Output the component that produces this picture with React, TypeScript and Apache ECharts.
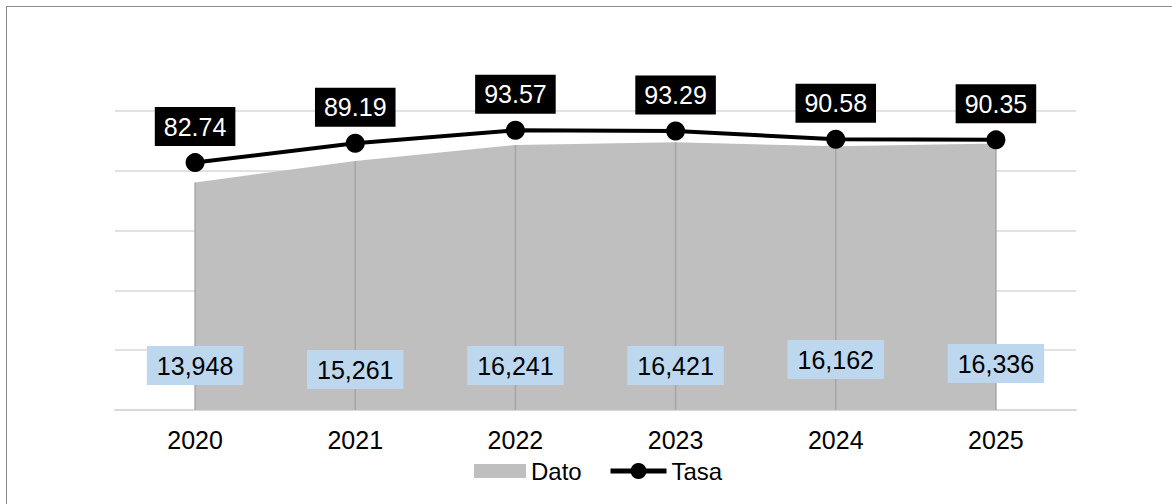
import React, { useEffect, useRef } from "react";
import * as echarts from "echarts";

const categories = ["2020", "2021", "2022", "2023", "2024", "2025"];
const datoValues = [13948, 15261, 16241, 16421, 16162, 16336];
const tasaValues = [82.74, 89.19, 93.57, 93.29, 90.58, 90.35];
const datoLabelLift = [25, 21, 25, 25, 31, 27];

const FONT = "'Liberation Sans', Arial, sans-serif";

export default function App() {
  const ref = useRef<HTMLDivElement>(null);
  useEffect(() => {
    if (!ref.current) return;
    const chart = echarts.init(ref.current, undefined, { renderer: "svg" });
    chart.setOption({
      animation: false,
      textStyle: { fontFamily: FONT },
      grid: { left: 115, right: 96, top: 111, bottom: 94, containLabel: false },
      legend: [
        {
          data: [{ name: "Dato", icon: "rect" }],
          left: 469,
          top: 454,
          padding: 5,
          itemWidth: 52,
          itemHeight: 14,
          selectedMode: false,
          textStyle: { fontSize: 24, color: "#000", fontFamily: FONT },
        },
        {
          data: ["Tasa"],
          left: 603,
          top: 454,
          padding: 5,
          itemWidth: 56,
          itemHeight: 20,
          selectedMode: false,
          lineStyle: { width: 5 },
          textStyle: { fontSize: 24, color: "#000", fontFamily: FONT },
        },
      ],
      xAxis: {
        type: "category",
        data: categories,
        boundaryGap: true,
        axisLine: { show: true, lineStyle: { color: "#d9d9d9", width: 2 } },
        axisTick: { show: false },
        axisLabel: { fontSize: 25, color: "#000", margin: 17, fontFamily: FONT },
        splitLine: { show: false },
      },
      yAxis: [
        {
          type: "value",
          min: 0,
          max: 18330,
          show: false,
          splitLine: { show: false },
        },
        {
          type: "value",
          min: 0,
          max: 100,
          interval: 20,
          axisLine: { show: false },
          axisTick: { show: false },
          axisLabel: { show: false },
          splitLine: { show: true, lineStyle: { color: "#d9d9d9", width: 1.5 } },
        },
      ],
      series: [
        {
          name: "Dato",
          type: "line",
          yAxisIndex: 0,
          data: datoValues,
          symbol: "none",
          lineStyle: { width: 0 },
          itemStyle: { color: "#bfbfbf" },
          areaStyle: { color: "#bfbfbf", opacity: 1 },
          z: 1,
        },
        {
          name: "DatoDrop",
          type: "bar",
          yAxisIndex: 0,
          barWidth: 1.5,
          data: datoValues.map((v, i) => ({
            value: v,
            label: { distance: datoLabelLift[i] },
          })),
          itemStyle: { color: "#a6a6a6" },
          label: {
            show: true,
            position: "insideBottom",
            formatter: (p: any) => Number(p.value).toLocaleString("en-US"),
            color: "#000",
            backgroundColor: "#bdd7ee",
            fontSize: 25,
            lineHeight: 27,
            padding: [6, 10],
            fontFamily: FONT,
          },
          z: 2,
        },
        {
          name: "Tasa",
          type: "line",
          yAxisIndex: 1,
          data: tasaValues,
          symbol: "circle",
          symbolSize: 19,
          lineStyle: { color: "#000", width: 4 },
          itemStyle: { color: "#000" },
          label: {
            show: true,
            position: "top",
            distance: 7,
            formatter: (p: any) => Number(p.value).toFixed(2),
            color: "#fff",
            backgroundColor: "#000",
            fontSize: 25,
            lineHeight: 27,
            padding: [6, 9],
            fontFamily: FONT,
          },
          z: 3,
        },
      ],
    });
    return () => chart.dispose();
  }, []);

  return (
    <div
      style={{
        position: "absolute",
        left: 0,
        top: 0,
        width: 1172,
        height: 504,
        overflow: "hidden",
        background: "#fff",
      }}
    >
      <div
        style={{
          position: "absolute",
          left: 6,
          top: 6,
          width: 1200,
          height: 600,
          border: "1.3px solid #8a8a8a",
          boxSizing: "border-box",
        }}
      />
      <div
        ref={ref}
        style={{ position: "absolute", left: 0, top: 0, width: 1172, height: 504 }}
      />
    </div>
  );
}
